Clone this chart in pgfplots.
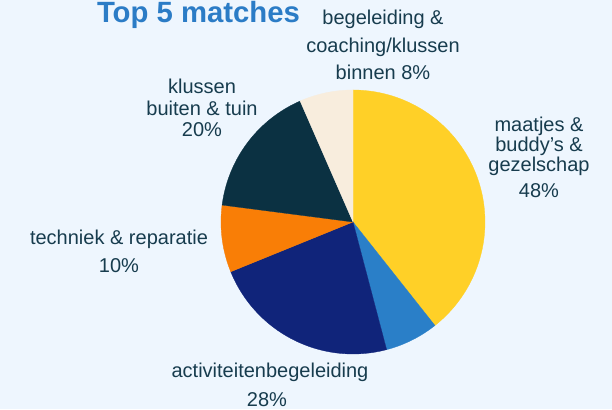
\documentclass[border=0pt]{standalone}
\usepackage{pgfplots}
\usepackage{pgfplotstable}
\pgfplotsset{compat=1.18}
\usepackage{fontspec}
\setmainfont{Liberation Sans}
\definecolor{bg}{HTML}{EEF6FE}
\definecolor{txt}{HTML}{173C4E}
\definecolor{ttl}{HTML}{2B7CC6}
\definecolor{cyellow}{HTML}{FFD027}
\definecolor{cblue}{HTML}{2A7FC8}
\definecolor{cnavy}{HTML}{10247A}
\definecolor{corange}{HTML}{F97E06}
\definecolor{cteal}{HTML}{0B3142}
\definecolor{ccream}{HTML}{F8EDDD}

% slices clockwise from 12 o'clock
\pgfplotstableread{
value color
48 cyellow
8 cblue
28 cnavy
10 corange
20 cteal
8 ccream
}\piedata

\newcommand\cx{353}
\newcommand\cy{187}
\newcommand\R{132}
% label line: x, y from top, text
\newcommand\lbl[3]{\node[anchor=base,text=txt,font=\fontsize{20}{24}\selectfont,inner sep=0pt] at (axis cs:#1,{409-#2}) {#3};}

\begin{document}
\begin{tikzpicture}
\begin{axis}[width=612pt,height=409pt,scale only axis,hide axis,
  xmin=0,xmax=612,ymin=0,ymax=409,clip=false]
\fill[bg] (axis cs:0,0) rectangle (axis cs:612,409);
\pgfmathsetmacro\tot{0}
\pgfplotsforeachungrouped \i in {0,...,5}{%
  \pgfplotstablegetelem{\i}{value}\of\piedata
  \pgfmathsetmacro\tot{\tot+\pgfplotsretval}}
\def\cum{0}
\pgfplotsforeachungrouped \i in {0,...,5}{%
  \pgfplotstablegetelem{\i}{value}\of\piedata \let\sv\pgfplotsretval
  \pgfplotstablegetelem{\i}{color}\of\piedata \let\sc\pgfplotsretval
  \pgfmathsetmacro\sa{90-360*(\cum/\tot)}
  \pgfmathsetmacro\cum{\cum+\sv}
  \pgfmathsetmacro\sb{90-360*(\cum/\tot)}
  \edef\temp{\noexpand\addplot[fill=\sc,draw=\sc,line width=0.3pt,domain=\sb:\sa,samples=90]
    ({\cx+\R*cos(x)},{\cy+\R*sin(x)}) -- (axis cs:\cx,\cy) -- cycle;}
  \temp
}
\node[anchor=base,text=ttl,font=\fontsize{29.3}{32}\selectfont\bfseries,inner sep=0pt]
  at (axis cs:198.5,{409-23}) {Top 5 matches};
\lbl{383}{25}{begeleiding \&}
\lbl{383}{52.5}{coaching/klussen}
\lbl{383}{79.5}{binnen 8\%}
\lbl{539}{132}{maatjes \&}
\lbl{539}{152}{buddy’s \&}
\lbl{539}{171.5}{gezelschap}
\lbl{539}{198}{48\%}
\lbl{202}{94}{klussen}
\lbl{202}{115.5}{buiten \& tuin}
\lbl{202}{137}{20\%}
\lbl{119}{245}{techniek \& reparatie}
\lbl{119}{273}{10\%}
\lbl{270}{378}{activiteitenbegeleiding}
\lbl{267}{406}{28\%}
\end{axis}
\end{tikzpicture}
\end{document}
